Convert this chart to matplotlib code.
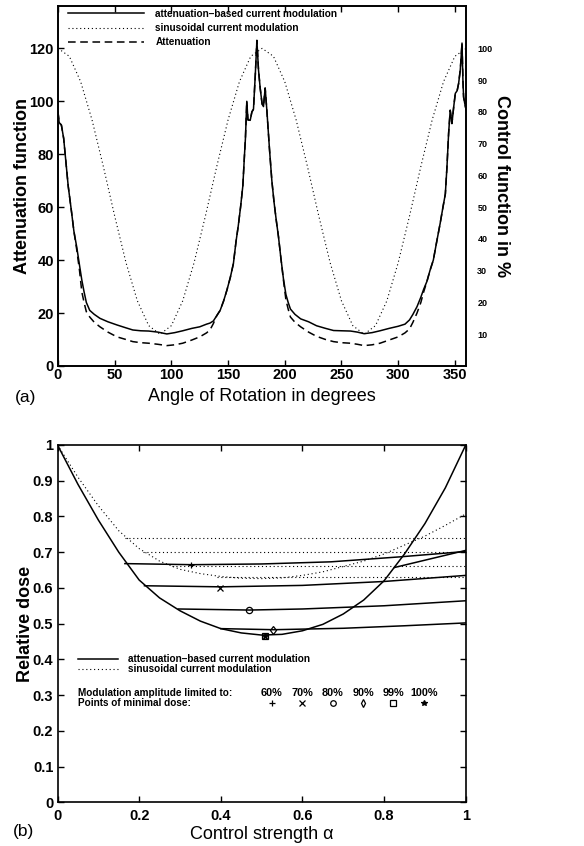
import matplotlib
matplotlib.use("Agg")
import matplotlib.pyplot as plt

plt.rcParams['font.family'] = ['Liberation Sans', 'DejaVu Sans']

# ---- (a) attenuation / current modulation over one rotation ----
angle = [0, 1, 3, 5, 7, 9, 12, 14, 16.5, 19, 21, 23, 25, 28, 32, 37, 44, 52, 60, 66,
         73, 80, 88, 96, 103, 110, 118, 125, 131, 134, 137, 140, 143, 146, 149, 152,
         154.7, 157, 159, 161, 163, 164.5, 165.3, 166.5, 167.5, 169.5, 171, 172.4, 174,
         175.4, 176.8, 178.3, 180, 181.2, 182.7, 184.2, 186.5, 188.6, 190.5, 192.5,
         194.4, 196.5, 198.8, 201, 203, 205, 209, 214, 221, 228, 236, 243, 250, 258,
         264, 270, 277, 284, 292, 300, 306, 310, 313, 316.6, 320, 322.5, 325.4, 328,
         331, 334, 337, 339.5, 341.6, 343, 344.5, 345.9, 347.4, 349, 350.4, 352, 353.3,
         354.8, 356.3, 357.1, 357.7, 358.8, 360]
attn_mod = [96, 92, 91, 86, 77, 68, 58, 51, 45, 38, 32.5, 28, 24, 21, 19.5, 18, 16.7,
            15.5, 14.4, 13.6, 13.3, 13.2, 12.8, 12.1, 12.6, 13.3, 14.2, 14.8, 15.8, 16.2,
            17, 19, 21, 24.5, 28.7, 33.5, 38.7, 47, 53, 60, 68, 80, 86, 100, 93, 92.8, 96,
            97, 110, 123, 112, 105, 99, 98, 105, 96.6, 82, 70, 62, 55, 49, 41, 33, 27, 24,
            21.5, 19.5, 17.8, 16.7, 15.2, 14.2, 13.4, 13.3, 13.2, 12.8, 12.2, 12.6, 13.3,
            14.2, 15, 15.8, 17.4, 19.5, 22.4, 26, 29, 32, 36, 40, 47, 53.8, 60, 65, 75, 88,
            96.6, 91.6, 98, 103, 104, 106.7, 112, 122, 108, 101.6, 99, 96.6]
attenuation = [96, 92, 91, 86, 77, 68, 58, 51, 44, 36, 28, 24, 20.5, 18.5, 16.5, 14.8,
               12.8, 11, 10, 9.2, 8.8, 8.6, 8.2, 7.7, 8, 8.6, 9.8, 11, 12.5, 13.6, 16, 19,
               21, 24.5, 28.7, 33.5, 38.7, 47, 53, 60, 68, 80, 86, 100, 93, 92.8, 96, 97,
               110, 123, 112, 105, 99, 98, 105, 96.6, 82, 70, 62, 55, 49, 41, 32.5, 25,
               21.5, 18.5, 16.5, 14.8, 12.8, 11.2, 10, 9.2, 8.8, 8.6, 8.2, 7.7, 8, 8.6, 9.8,
               11, 12.5, 14, 16.5, 20, 24, 28, 32, 36, 40, 47, 53.8, 60, 65, 75, 88, 96.6,
               91.6, 98, 103, 104, 106.7, 112, 122, 108, 101.6, 99, 96.6]
angle_sin = list(range(0, 361, 10))
sin_mod = [100, 97.5, 89.5, 77.5, 62.8, 47.2, 32.5, 20.5, 12.7, 10, 12.7, 20.5, 32.5,
           47.2, 62.8, 77.5, 89.5, 97.5, 100, 97.5, 89.5, 77.5, 62.8, 47.2, 32.5, 20.5,
           12.7, 10, 12.7, 20.5, 32.5, 47.2, 62.8, 77.5, 89.5, 97.5, 100]

# ---- (b) relative dose vs control strength ----
alpha = [0, 0.05, 0.1, 0.15, 0.2, 0.25, 0.3, 0.35, 0.4, 0.45, 0.5, 0.55, 0.6, 0.65,
         0.7, 0.75, 0.8, 0.85, 0.9, 0.95, 1.0]
dose_att = [1.0, 0.89, 0.79, 0.70, 0.622, 0.572, 0.536, 0.507, 0.486, 0.474, 0.468,
            0.47, 0.48, 0.498, 0.527, 0.566, 0.62, 0.695, 0.78, 0.88, 1.0]
dose_sin = [1.0, 0.91, 0.83, 0.76, 0.71, 0.675, 0.652, 0.64, 0.632, 0.627, 0.626,
            0.628, 0.635, 0.645, 0.66, 0.675, 0.695, 0.72, 0.745, 0.775, 0.807]

lim_alpha = {
    '60%': [0.165, 0.33, 0.5, 0.67, 0.84, 1.0],
    '70%': [0.213, 0.4, 0.6, 0.8, 1.0],
    '80%': [0.296, 0.47, 0.6, 0.8, 1.0],
    '90%': [0.40, 0.53, 0.7, 0.85, 1.0],
    '99%': [0.825, 1.0],
}
lim_dose = {
    '60%': [0.668, 0.665, 0.667, 0.673, 0.687, 0.702],
    '70%': [0.606, 0.603, 0.607, 0.618, 0.635],
    '80%': [0.541, 0.538, 0.541, 0.55, 0.564],
    '90%': [0.486, 0.483, 0.487, 0.494, 0.502],
    '99%': [0.657, 0.705],
}
sin_levels = [0.74, 0.70, 0.66, 0.63]
sin_start = [0.165, 0.21, 0.28, 0.39]

amp_labels = ['60%', '70%', '80%', '90%', '99%', '100%']
amp_markers = ['+', 'x', 'o', 'd', 's', '*']
min_alpha = [0.328, 0.398, 0.468, 0.529, 0.508, 0.508]
min_dose = [0.664, 0.601, 0.537, 0.483, 0.466, 0.466]

TICK_FS = 10.5
LABEL_FS = 13
leg_prop = {'size': 7.2, 'weight': 'bold'}
dotted = (0, (1, 2.5))

fig = plt.figure(figsize=(5.84, 8.46), dpi=100)

# panel (a)
ax1 = fig.add_axes([0.0993, 0.5674, 0.699, 0.4255])
h_att, = ax1.plot(angle, attn_mod, color='k', lw=1.1)
h_dash, = ax1.plot(angle, attenuation, color='k', lw=1.1, ls=(0, (5, 3)))
ax1.set_xlim(0, 360)
ax1.set_ylim(0, 136)
ax1.set_xticks(range(0, 351, 50))
ax1.set_yticks(range(0, 121, 20))
ax1.tick_params(direction='in', top=True, right=True, length=4, width=1)
ax1.tick_params(axis='x', pad=1.5)
ax1.tick_params(axis='y', pad=3)
for lab in ax1.get_xticklabels() + ax1.get_yticklabels():
    lab.set_fontsize(TICK_FS)
    lab.set_fontweight('bold')
ax1.set_xlabel('Angle of Rotation in degrees', fontsize=LABEL_FS, labelpad=4)
ax1.set_ylabel('Attenuation function', fontsize=LABEL_FS, fontweight='bold',
               labelpad=-1)

ax1r = ax1.twinx()
h_sin, = ax1r.plot(angle_sin, sin_mod, color='k', lw=0.8, ls=dotted)
ax1r.set_ylim(0, 136 / 1.2)
ax1r.set_yticks(range(10, 101, 10))
ax1r.tick_params(length=0, pad=8)
for lab in ax1r.get_yticklabels():
    lab.set_fontsize(6.5)
    lab.set_fontweight('bold')
ax1r.set_ylabel('Control function in %', fontsize=LABEL_FS, fontweight='bold',
                rotation=-90, labelpad=13)
ax1r.legend([h_att, h_sin, h_dash],
            ['attenuation–based current modulation', 'sinusoidal current modulation',
             'Attenuation'],
            loc='upper left', bbox_to_anchor=(0.0245, 0.992), frameon=False,
            prop=leg_prop, handlelength=7.6, handletextpad=1.15, labelspacing=0.42,
            borderpad=0, borderaxespad=0)
for sp in list(ax1.spines.values()) + list(ax1r.spines.values()):
    sp.set_linewidth(1.2)

# panel (b)
ax2 = fig.add_axes([0.0985, 0.0517, 0.699, 0.4223])
hb_att, = ax2.plot(alpha, dose_att, color='k', lw=1.1)
hb_sin, = ax2.plot(alpha, dose_sin, color='k', lw=0.8, ls=dotted)
for key in lim_alpha:
    ax2.plot(lim_alpha[key], lim_dose[key], color='k', lw=1.1)
for lev, st in zip(sin_levels, sin_start):
    ax2.plot([st, 1.0], [lev, lev], color='k', lw=0.8, ls=dotted)
for m, a, d in zip(amp_markers, min_alpha, min_dose):
    ax2.plot(a, d, marker=m, color='k', ms=4.5, mfc='none' if m in 'ods' else 'k',
             mew=0.9, ls='none')

ax2.set_xlim(0, 1)
ax2.set_ylim(0, 1)
ax2.set_xticks([0, 0.2, 0.4, 0.6, 0.8, 1])
ax2.set_yticks([i / 10 for i in range(11)])
ax2.set_xticklabels(['0', '0.2', '0.4', '0.6', '0.8', '1'])
ax2.set_yticklabels(['0', '0.1', '0.2', '0.3', '0.4', '0.5', '0.6', '0.7', '0.8',
                     '0.9', '1'])
ax2.tick_params(direction='in', top=True, right=True, length=4, width=1)
ax2.tick_params(axis='x', pad=5)
ax2.tick_params(axis='y', pad=3)
for lab in ax2.get_xticklabels() + ax2.get_yticklabels():
    lab.set_fontsize(TICK_FS)
    lab.set_fontweight('bold')
ax2.set_xlabel('Control strength α', fontsize=LABEL_FS, labelpad=2)
ax2.set_ylabel('Relative dose', fontsize=LABEL_FS, fontweight='bold', labelpad=-1)
ax2.legend([hb_att, hb_sin],
           ['attenuation–based current modulation', 'sinusoidal current modulation'],
           loc='upper left', bbox_to_anchor=(0.05, 0.414), frameon=False,
           prop=leg_prop, handlelength=4, handletextpad=1.0, labelspacing=0.0,
           borderpad=0, borderaxespad=0)
for sp in ax2.spines.values():
    sp.set_linewidth(1.2)

ax2.text(0.05, 0.306, 'Modulation amplitude limited to:', fontdict=leg_prop,
         va='center', ha='left')
ax2.text(0.05, 0.278, 'Points of minimal dose:', fontdict=leg_prop,
         va='center', ha='left')
x0, step = 0.525, 0.0745
for i, (lab, m) in enumerate(zip(amp_labels, amp_markers)):
    ax2.text(x0 + i * step, 0.306, lab, fontdict={'size': 7.8, 'weight': 'bold'},
             va='center', ha='center')
    ax2.plot(x0 + i * step, 0.278, marker=m, color='k', ms=4,
             mfc='none' if m in 'ods' else 'k', mew=0.9, ls='none', clip_on=False)

fig.text(0.0257, 0.5307, '(a)', fontsize=12.5, va='center', ha='left')
fig.text(0.022, 0.0177, '(b)', fontsize=12.5, va='center', ha='left')

fig.savefig('out.png', dpi=100)
